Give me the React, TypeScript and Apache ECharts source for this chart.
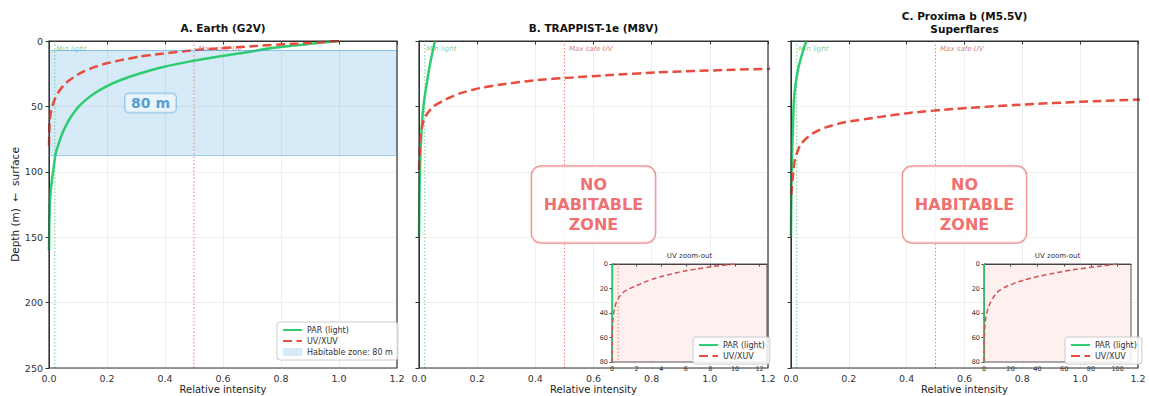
import React, { useEffect, useRef } from "react";
import * as echarts from "echarts";

const FONT = "DejaVu Sans";
const GREEN = "#2ecc71";
const RED = "#e74c3c";
const INSET_RED = "#cd5555";
const MIN_LIGHT_COLOR = "#6fcf94";
const MAX_UV_COLOR = "#ee8276";

// ---------- data ----------
const panelTitles = ["A. Earth (G2V)", "B. TRAPPIST-1e (M8V)", "C. Proxima b (M5.5V)\nSuperflares"];
const MIN_LIGHT = 0.02;
const MAX_SAFE_UV = 0.5;
const habitableTop = 7;
const habitableBottom = 87;
const habitableLabel = "80 m";

// Earth (G2V)
const earthParDepth = [0, 2, 5, 9, 12, 15, 20, 25, 30, 35, 40, 45, 50, 55, 60, 65, 70, 80, 87, 90, 100, 110, 120, 140, 160];
const earthParValue = [1.0, 0.91, 0.78, 0.67, 0.58, 0.5, 0.39, 0.31, 0.245, 0.195, 0.157, 0.127, 0.103, 0.085, 0.07, 0.058, 0.047, 0.031, 0.022, 0.02, 0.014, 0.008, 0.004, 0.001, 0];
const earthUvDepth = [0, 2, 4, 7, 10, 12, 15, 17, 20, 25, 30, 34, 40, 44, 50, 54, 60, 70, 80];
const earthUvValue = [1.0, 0.86, 0.7, 0.5, 0.38, 0.31, 0.24, 0.2, 0.155, 0.105, 0.07, 0.05, 0.03, 0.021, 0.011, 0.007, 0.003, 0.001, 0];

// TRAPPIST-1e (M8V)
const trapParDepth = [0, 10, 20, 32, 45, 55, 68, 80, 100, 120, 150];
const trapParValue = [0.055, 0.045, 0.036, 0.027, 0.018, 0.013, 0.009, 0.006, 0.003, 0.0015, 0];
const trapUvDepth = [0, 2, 4, 6, 8, 10, 12, 14, 16, 18, 20, 22, 24, 26, 28, 30, 33, 36, 40, 45, 50, 55, 60, 70, 80, 100];
const trapUvValue = [10, 8.2, 6.9, 5.8, 4.9, 4.1, 3.4, 2.85, 2.35, 1.9, 1.45, 1.08, 0.82, 0.66, 0.52, 0.4, 0.29, 0.21, 0.14, 0.089, 0.05, 0.03, 0.017, 0.007, 0.003, 0];

// Proxima b (M5.5V) superflares
const proxParDepth = [0, 5, 11, 21, 33, 46, 60, 72, 90, 110, 150];
const proxParValue = [0.054, 0.045, 0.037, 0.025, 0.016, 0.01, 0.0075, 0.006, 0.003, 0.0015, 0];
const proxUvDepth = [0, 2, 5, 8, 10, 13, 16, 19, 22, 25, 28, 32, 36, 40, 43, 46, 49, 52, 55, 58, 62, 66, 70, 75, 80, 90, 100, 120];
const proxUvValue = [100, 85, 65, 50, 41, 30, 22, 15.5, 11, 8.5, 6.5, 4.5, 3.1, 2.1, 1.45, 1.05, 0.77, 0.56, 0.41, 0.31, 0.19, 0.12, 0.08, 0.05, 0.031, 0.014, 0.008, 0];

// axis extents
const mainXMax = 1.2;
const mainXStep = 0.2;
const depthMax = 250;
const depthStep = 50;
const insetDepthMax = 80;
const insetDepthStep = 20;
const insetXMax = [12.6, 110];
const insetXStep = [2, 20];

// annotation anchors (data coordinates)
const labelDepth = 6;
const habLabelPos = [0.35, 47.4];
const noZonePos = [0.6, 125];

const zip = (vals: number[], depths: number[]) => vals.map((v, i) => [v, depths[i]]);

const panels = [
  { par: zip(earthParValue, earthParDepth), uv: zip(earthUvValue, earthUvDepth) },
  { par: zip(trapParValue, trapParDepth), uv: zip(trapUvValue, trapUvDepth) },
  { par: zip(proxParValue, proxParDepth), uv: zip(proxUvValue, proxUvDepth) },
];

// layout
const mainGrids = [
  { left: 49, top: 41, width: 348, height: 327 },
  { left: 419, top: 41, width: 349, height: 327 },
  { left: 791, top: 41, width: 347, height: 327 },
];
const insetGrids = [
  { left: 612, top: 264, width: 155, height: 98 },
  { left: 984, top: 264, width: 147, height: 98 },
];

const hideSymbol = { opacity: 0 };

function vline(name: string, x: number, yMax: number, axis: number, color: string, z: number) {
  return {
    type: "line", name, xAxisIndex: axis, yAxisIndex: axis, data: [[x, 0], [x, yMax]],
    symbol: "none", silent: true, lineStyle: { color, width: 1, type: [1.5, 2] }, itemStyle: { color }, z,
  };
}

function buildOption() {
  const grid: any[] = [];
  const xAxis: any[] = [];
  const yAxis: any[] = [];
  const series: any[] = [];
  const graphic: any[] = [];

  mainGrids.forEach((g, i) => {
    grid.push({ ...g, show: true, borderColor: "#333", borderWidth: 1.2, backgroundColor: "transparent", z: 4, outerBoundsMode: "none", containLabel: false });
    xAxis.push({
      type: "value", gridIndex: i, min: 0, max: mainXMax, interval: mainXStep,
      name: "Relative intensity", nameLocation: "middle", nameGap: 16, nameMoveOverlap: false,
      nameTextStyle: { fontSize: 10, color: "#222", fontFamily: FONT, lineHeight: 11 },
      axisLine: { show: true, lineStyle: { color: "#333" } },
      axisTick: { show: true, length: 3.5, lineStyle: { color: "#333" } },
      axisLabel: { fontSize: 9.5, color: "#333", margin: 5, fontFamily: FONT, formatter: (v: number) => v.toFixed(1) },
      splitLine: { show: true, lineStyle: { color: "#ebebeb", width: 0.8 } },
      z: 0,
    });
    yAxis.push({
      type: "value", gridIndex: i, inverse: true, min: 0, max: depthMax, interval: depthStep,
      name: i === 0 ? "Depth (m)  \u2190  surface" : "", nameLocation: "middle", nameGap: 27, nameRotate: 90,
      nameTextStyle: { fontSize: 10.5, color: "#222", fontFamily: FONT },
      axisLine: { show: true, lineStyle: { color: "#333" } },
      axisTick: { show: true, length: 3.5, lineStyle: { color: "#333" } },
      axisLabel: { show: i === 0, fontSize: 9.5, color: "#333", margin: 6, fontFamily: FONT },
      splitLine: { show: true, lineStyle: { color: "#ebebeb", width: 0.8 } },
      z: 0,
    });
    const p = panels[i];
    series.push(vline("_minlight" + i, MIN_LIGHT, depthMax, i, MIN_LIGHT_COLOR, 2));
    series.push(vline("_maxuv" + i, MAX_SAFE_UV, depthMax, i, MAX_UV_COLOR, 2));
    series.push({
      type: "line", name: "PAR (light)", xAxisIndex: i, yAxisIndex: i, data: p.par,
      symbol: "none", smooth: 0.2, lineStyle: { color: GREEN, width: 2.5 }, itemStyle: { color: GREEN }, z: 3,
    });
    series.push({
      type: "line", name: "UV/XUV", xAxisIndex: i, yAxisIndex: i, data: p.uv,
      symbol: "none", smooth: 0.2, lineStyle: { color: RED, width: 2.5, type: [9, 4.5] }, itemStyle: { color: RED }, z: 3,
    });
    const ann: any[] = [
      { value: [MIN_LIGHT, labelDepth], label: { show: true, position: "right", distance: 1, formatter: "Min light", fontSize: 7, fontStyle: "italic", color: "#5fbf80", fontFamily: FONT } },
      { value: [MAX_SAFE_UV, labelDepth], label: { show: true, position: "right", distance: 4, formatter: "Max safe UV", fontSize: 7, fontStyle: "italic", color: "#c8605a", fontFamily: FONT } },
    ];
    if (i === 0) {
      ann.push({
        value: habLabelPos,
        label: {
          show: true, position: "inside", formatter: habitableLabel, fontSize: 14, fontWeight: "bold", color: "#2f86c6", fontFamily: FONT,
          backgroundColor: "rgba(255,255,255,0.6)", borderColor: "#86bde2", borderWidth: 1, borderRadius: 4, padding: [3, 6, 2, 6],
        },
      });
    } else {
      ann.push({
        value: noZonePos,
        label: {
          show: true, position: "inside", formatter: "NO\nHABITABLE\nZONE", fontSize: 16, fontWeight: "bold", color: "#ec4a4a", fontFamily: FONT,
          lineHeight: 20, align: "center", backgroundColor: "#ffffff", borderColor: "#ea7070", borderWidth: 1.2, borderRadius: 9, padding: [8, 12, 8, 12],
        },
      });
    }
    series.push({
      type: "scatter", name: "_ann" + i, xAxisIndex: i, yAxisIndex: i, data: ann, symbolSize: 1,
      itemStyle: { color: "rgba(0,0,0,0)" }, silent: true, z: 2,
    });
    graphic.push({
      type: "text", x: g.left + g.width / 2, y: i === 2 ? 22 : 28, z: 10,
      style: { text: panelTitles[i], align: "center", verticalAlign: "middle", fontSize: 10.5, fontWeight: "bold", fontFamily: FONT, fill: "#111", lineHeight: 13 },
    });
  });

  // habitable band in panel A (legend entry + markArea)
  series.push({
    type: "scatter", name: "Habitable zone: 80 m", xAxisIndex: 0, yAxisIndex: 0, data: [],
    itemStyle: { color: "rgba(52,152,219,0.25)" }, z: 1,
    markArea: {
      silent: true,
      itemStyle: { color: "rgba(52,152,219,0.2)", borderWidth: 0 },
      data: [[{ yAxis: habitableTop }, { yAxis: habitableBottom }]],
    },
    markLine: {
      silent: true, symbol: ["none", "none"], label: { show: false },
      lineStyle: { color: "rgba(52,152,219,0.5)", type: "solid", width: 1 },
      data: [{ yAxis: habitableTop }, { yAxis: habitableBottom }],
    },
  });

  insetGrids.forEach((g, k) => {
    const gi = 3 + k;
    const p = panels[k + 1];
    grid.push({ ...g, show: true, borderColor: "#555", borderWidth: 1, backgroundColor: "#fdf0ef", z: 5, outerBoundsMode: "none", containLabel: false });
    xAxis.push({
      type: "value", gridIndex: gi, min: 0, max: insetXMax[k], interval: insetXStep[k],
      axisLine: { show: true, lineStyle: { color: "#444" } },
      axisTick: { show: true, length: 2.5, lineStyle: { color: "#444" } },
      axisLabel: { fontSize: 6.5, color: "#333", margin: 3, fontFamily: FONT, showMaxLabel: false },
      splitLine: { show: false }, z: 6,
    });
    yAxis.push({
      type: "value", gridIndex: gi, inverse: true, min: 0, max: insetDepthMax, interval: insetDepthStep,
      axisLine: { show: true, lineStyle: { color: "#444" } },
      axisTick: { show: true, length: 2.5, lineStyle: { color: "#444" } },
      axisLabel: { fontSize: 6.5, color: "#333", margin: 4, fontFamily: FONT },
      splitLine: { show: false }, z: 6,
    });
    series.push(vline("_insetuv" + k, MAX_SAFE_UV, insetDepthMax, gi, MAX_UV_COLOR, 7));
    series.push({
      type: "line", name: "PAR (light)", xAxisIndex: gi, yAxisIndex: gi, data: p.par,
      symbol: "none", lineStyle: { color: GREEN, width: 1.5 }, itemStyle: { color: GREEN }, z: 7,
    });
    series.push({
      type: "line", name: "UV/XUV", xAxisIndex: gi, yAxisIndex: gi, data: [...p.uv, [0, insetDepthMax]],
      symbol: "none", smooth: 0.2, lineStyle: { color: INSET_RED, width: 1.5, type: [5, 3] }, itemStyle: { color: INSET_RED }, z: 7,
    });
    graphic.push({
      type: "text", x: g.left + g.width / 2, y: 256, z: 10,
      style: { text: "UV zoom-out", align: "center", verticalAlign: "middle", fontSize: 7, fontFamily: FONT, fill: "#333" },
    });
  });

  const legendBase = {
    orient: "vertical", itemGap: 3, itemWidth: 19, itemHeight: 8,
    textStyle: { fontSize: 8, color: "#333", fontFamily: FONT },
    borderColor: "#cccccc", borderWidth: 1, borderRadius: 3, backgroundColor: "rgba(255,255,255,0.85)",
    padding: [4, 5, 4, 5], selectedMode: false, z: 9,
  };
  const lineItems = [
    { name: "PAR (light)", itemStyle: hideSymbol },
    { name: "UV/XUV", itemStyle: hideSymbol },
  ];

  return {
    animation: false,
    textStyle: { fontFamily: FONT },
    grid, xAxis, yAxis, series, graphic,
    legend: [
      { ...legendBase, left: 277, top: 322, data: [...lineItems, { name: "Habitable zone: 80 m", icon: "rect" }] },
      { ...legendBase, left: 693, top: 337, data: lineItems },
      { ...legendBase, left: 1065, top: 337, data: lineItems },
    ],
  };
}

export default function App() {
  const ref = useRef<HTMLDivElement>(null);
  useEffect(() => {
    document.body.style.margin = "0";
    if (!ref.current) return;
    const chart = echarts.init(ref.current, undefined, { renderer: "svg" });
    chart.setOption(buildOption() as any);
    return () => chart.dispose();
  }, []);
  return <div ref={ref} style={{ width: 1149, height: 396, background: "#fff" }} />;
}
